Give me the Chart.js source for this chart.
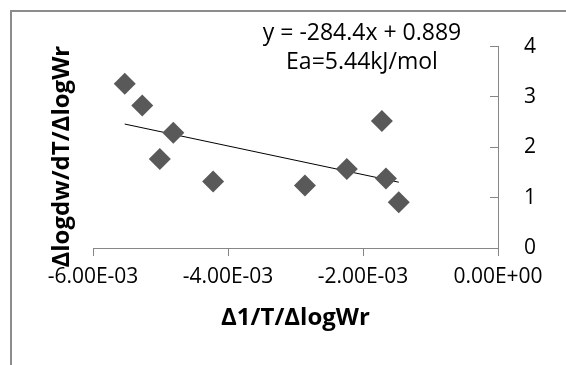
<!DOCTYPE html>
<html>
<head>
<meta charset="utf-8">
<script src="https://cdn.jsdelivr.net/npm/chart.js@4/dist/chart.umd.min.js"></script>
<style>
  html, body { margin: 0; padding: 0; background: #fff; }
  #wrap { position: relative; width: 566px; height: 365px; }
</style>
</head>
<body>
<div id="wrap"><canvas id="chart" width="566" height="365"></canvas></div>
<script>
  'use strict';

  // values
  const xValues = [-5.53e-3, -5.27e-3, -4.81e-3, -5.01e-3, -4.22e-3, -2.86e-3, -2.24e-3, -1.72e-3, -1.66e-3, -1.47e-3];
  const yValues = [3.26, 2.83, 2.29, 1.77, 1.32, 1.24, 1.57, 2.52, 1.38, 0.91];

  const xTickValues = [-6e-3, -4e-3, -2e-3, 0];
  const xTickLabels = ['-6.00E-03', '-4.00E-03', '-2.00E-03', '0.00E+00'];
  const yTickValues = [0, 1, 2, 3, 4];
  const yTickLabels = ['0', '1', '2', '3', '4'];

  const trendSlope = -284.4;
  const trendIntercept = 0.889;
  const annotationLines = ['y = -284.4x + 0.889', 'Ea=5.44kJ/mol'];

  const xTitle = 'Δ1/T/ΔlogWr';
  const yTitle = 'Δlogdw/dT/ΔlogWr';

  const FONT = "'Open Sans', sans-serif";
  const axisGray = '#868686';
  const markerColor = '#595959';

  const points = xValues.map((x, i) => ({ x: x, y: yValues[i] }));
  const xMin = Math.min(...xValues);
  const xMax = Math.max(...xValues);
  const trendPoints = [
    { x: xMin, y: trendSlope * xMin + trendIntercept },
    { x: xMax, y: trendSlope * xMax + trendIntercept }
  ];

  // outer frame and the trendline label
  const framePlugin = {
    id: 'frame',
    beforeDraw(chart) {
      const ctx = chart.ctx;
      ctx.save();
      ctx.strokeStyle = '#8c8c8c';
      ctx.lineWidth = 2;
      ctx.beginPath();
      ctx.moveTo(11, 365);
      ctx.lineTo(11, 11);
      ctx.lineTo(566, 11);
      ctx.stroke();
      ctx.restore();
    },
    afterDraw(chart) {
      const ctx = chart.ctx;
      ctx.save();
      ctx.fillStyle = '#000';
      ctx.font = '23px ' + FONT;
      ctx.textAlign = 'center';
      ctx.textBaseline = 'middle';
      annotationLines.forEach((t, i) => {
        ctx.fillText(t, 362, 33 + i * 29);
      });
      ctx.restore();
    }
  };

  new Chart(document.getElementById('chart'), {
    type: 'scatter',
    data: {
      datasets: [{
        data: points,
        pointStyle: 'rectRot',
        pointRadius: 11,
        pointHoverRadius: 11,
        backgroundColor: markerColor,
        borderColor: markerColor,
        borderWidth: 0
      }, {
        type: 'line',
        data: trendPoints,
        borderColor: '#000',
        borderWidth: 1,
        pointRadius: 0,
        fill: false
      }]
    },
    options: {
      responsive: false,
      animation: false,
      events: [],
      layout: { padding: { top: 42, right: 0, left: 0, bottom: 0 } },
      plugins: {
        legend: { display: false },
        tooltip: { enabled: false }
      },
      scales: {
        x: {
          type: 'linear',
          position: 'bottom',
          min: -6e-3,
          max: 0,
          afterBuildTicks: (axis) => { axis.ticks = xTickValues.map(v => ({ value: v })); },
          afterFit: (axis) => { axis.height = 117; },
          grid: { drawOnChartArea: false, color: axisGray, tickLength: 8, lineWidth: 1 },
          border: { color: axisGray, width: 1 },
          ticks: {
            autoSkip: false,
            maxRotation: 0,
            padding: 8,
            color: '#000',
            font: { family: FONT, size: 21 },
            callback: (v, i) => xTickLabels[i]
          },
          title: {
            display: true,
            text: xTitle,
            color: '#000',
            font: { family: FONT, size: 24, weight: 'bold' },
            padding: { top: 0, bottom: 32 }
          }
        },
        y: {
          type: 'linear',
          position: 'right',
          min: 0,
          max: 4,
          afterBuildTicks: (axis) => { axis.ticks = yTickValues.map(v => ({ value: v })); },
          afterFit: (axis) => { axis.width = 68; },
          grid: { drawOnChartArea: false, color: axisGray, tickLength: -8, lineWidth: 1 },
          border: { color: axisGray, width: 1 },
          ticks: {
            padding: 34,
            color: '#000',
            font: { family: FONT, size: 21 },
            callback: (v, i) => yTickLabels[i]
          }
        },
        yTitleAxis: {
          type: 'linear',
          position: 'left',
          min: 0,
          max: 4,
          afterFit: (axis) => { axis.width = 93; },
          grid: { display: false },
          border: { display: false },
          ticks: { display: false },
          title: {
            display: true,
            // trailing spaces push the visible text a little lower
            text: yTitle + '   ',
            color: '#000',
            font: { family: FONT, size: 24, weight: 'bold' },
            padding: { top: 48, bottom: 0 }
          }
        }
      }
    },
    plugins: [framePlugin]
  });
</script>
</body>
</html>
